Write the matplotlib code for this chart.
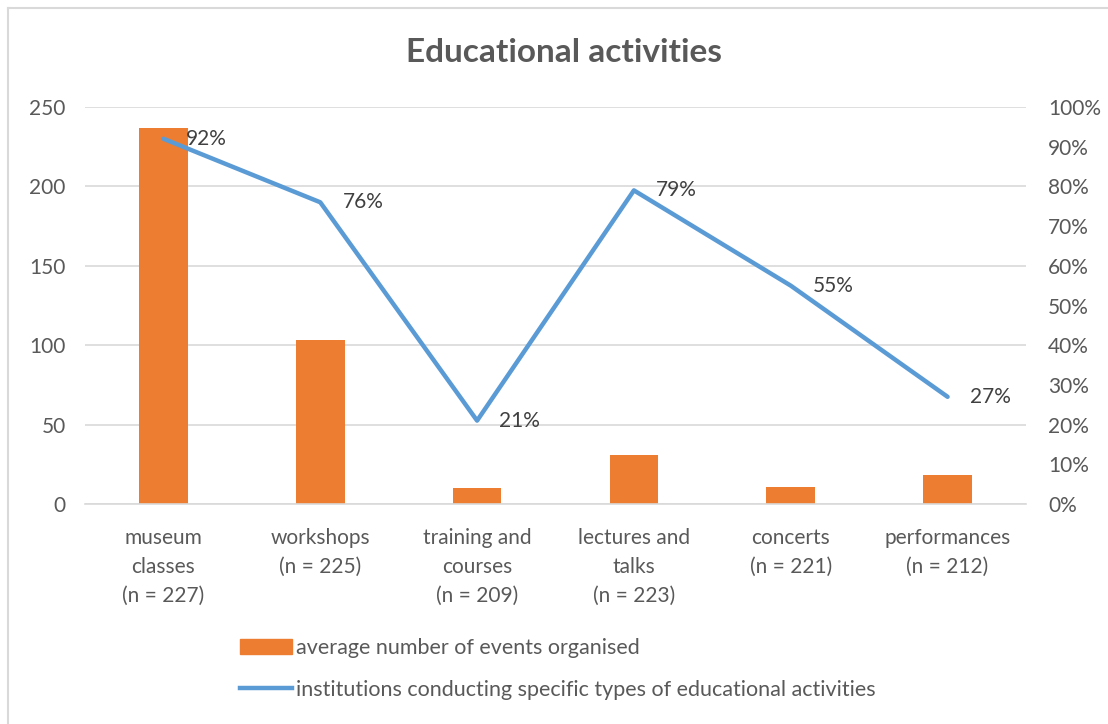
import numpy as np
import matplotlib
matplotlib.use('Agg')
import matplotlib.pyplot as plt
from matplotlib.lines import Line2D
import matplotlib.patches as mpatches

plt.rcParams.update({'font.family': ['Lato', 'DejaVu Sans'], 'font.size': 15})

categories = ['museum\nclasses\n(n = 227)', 'workshops\n(n = 225)', 'training and\ncourses\n(n = 209)',
              'lectures and\ntalks\n(n = 223)', 'concerts\n(n = 221)', 'performances\n(n = 212)']
avg_events = [237, 103, 10, 31, 10.5, 18.5]
share_pct = [92, 76, 21, 79, 55, 27]

orange = '#ED7D31'
blue = '#5B9BD5'
txt = '#595959'
grid = '#D9D9D9'

W, H = 1108, 724
fig = plt.figure(figsize=(W / 100, H / 100), dpi=100)
ax = fig.add_axes([85 / W, 1 - 504 / H, (1026 - 85) / W, (504 - 107) / H])
x = np.arange(len(categories))
ax.bar(x, avg_events, width=0.31, color=orange, zorder=2)
ax.set_xlim(-0.5, len(categories) - 0.5)
ax.set_ylim(0, 250)
ax.set_yticks(np.arange(0, 251, 50))
ax.yaxis.grid(True, color=grid, lw=1.2, zorder=0)
ax.set_axisbelow(True)
for s in ['left', 'right', 'top']:
    ax.spines[s].set_visible(False)
ax.spines['bottom'].set_color(grid)
ax.spines['bottom'].set_linewidth(1.2)
ax.tick_params(length=0, colors=txt, labelsize=15)
ax.tick_params(axis='y', pad=14)
ax.set_xticks(x)
ax.set_xticklabels(categories, linespacing=1.57)
ax.tick_params(axis='x', pad=17)

ax2 = ax.twinx()
ax2.plot(x, share_pct, color=blue, lw=3.2, solid_capstyle='round', zorder=3)
ax2.set_ylim(0, 100)
ax2.set_yticks(np.arange(0, 101, 10))
ax2.set_yticklabels([f'{v}%' for v in range(0, 101, 10)])
ax2.tick_params(length=0, colors=txt, labelsize=15, pad=16)
for s in ax2.spines.values():
    s.set_visible(False)
for xi, v in zip(x, share_pct):
    ax2.annotate(f'{v}%', (xi, v), xytext=(16, 0), textcoords='offset points',
                 ha='left', va='center', color='#404040', fontsize=15)

fig.text(564 / W, 1 - 52 / H, 'Educational activities', ha='center', va='center',
         fontsize=24, fontweight='bold', color=txt)

handles = [mpatches.Patch(color=orange, label='average number of events organised'),
           Line2D([0], [0], color=blue, lw=3.2, label='institutions conducting specific types of educational activities')]
fig.legend(handles=handles, loc='upper left', bbox_to_anchor=(240 / W, 1 - 638 / H), frameon=False,
           labelcolor=txt, fontsize=15.5, handlelength=2.4, handleheight=0.7, handletextpad=0.2,
           labelspacing=1.0, borderpad=0, borderaxespad=0)

fig.add_artist(Line2D([8 / W, 8 / W], [0, 1 - 8 / H], color=grid, lw=1.5))
fig.add_artist(Line2D([8 / W, 1], [1 - 8 / H, 1 - 8 / H], color=grid, lw=1.5))

fig.savefig('out.png', dpi=100)
